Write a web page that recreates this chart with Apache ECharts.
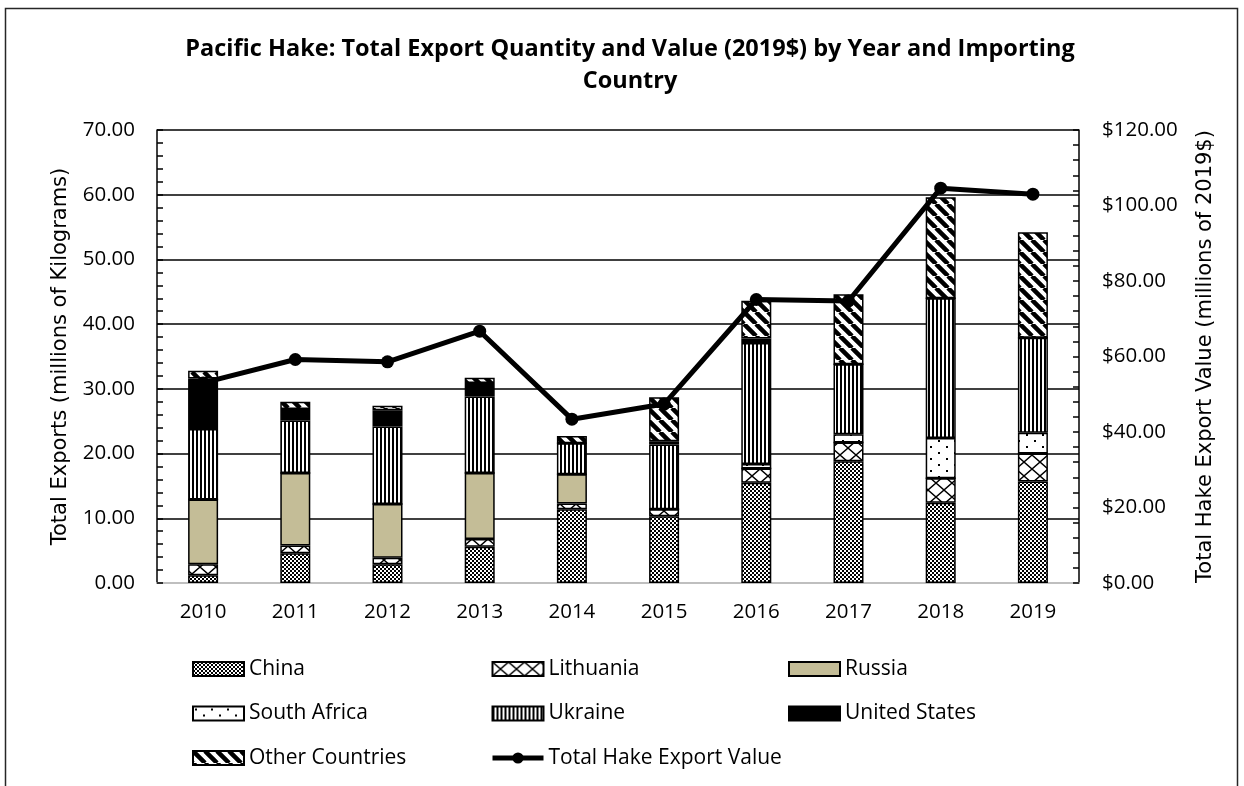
<!DOCTYPE html>
<html>
<head>
<meta charset="utf-8">
<script src="https://cdn.jsdelivr.net/npm/echarts/dist/echarts.min.js"></script>
<style>
  html, body { margin: 0; padding: 0; background: #fff; }
  #chart { width: 1244px; height: 786px; }
</style>
</head>
<body>
<div id="chart"></div>
<script>
const years = ["2010", "2011", "2012", "2013", "2014", "2015", "2016", "2017", "2018", "2019"];
const china = [1.2, 4.6, 2.9, 5.6, 11.4, 10.3, 15.5, 18.8, 12.4, 15.7];
const lithuania = [1.7, 1.2, 1.0, 1.2, 0.9, 1.1, 2.2, 2.9, 3.8, 4.3];
const russia = [10.0, 11.2, 8.3, 10.2, 4.5, 0, 0, 0, 0, 0];
const southAfrica = [0, 0, 0, 0, 0, 0, 0.7, 1.3, 6.2, 3.2];
const ukraine = [10.9, 8.1, 12.0, 11.8, 4.8, 10.0, 18.7, 10.8, 21.6, 14.7];
const unitedStates = [7.8, 1.8, 2.5, 2.1, 0, 0.5, 0.7, 0, 0, 0];
const otherCountries = [1.2, 1.1, 0.7, 0.8, 1.1, 6.8, 5.8, 10.8, 15.6, 16.3];
const exportValue = [53.0, 59.2, 58.6, 66.7, 43.4, 47.4, 75.1, 74.7, 104.6, 103.0];

const tickFont = "Open Sans";
const nameFont = "DejaVu Sans";

// small canvas fills standing in for Excel's pattern fills
function pattern(w, h, draw) {
  const c = document.createElement("canvas");
  c.width = w;
  c.height = h;
  const ctx = c.getContext("2d");
  ctx.fillStyle = "#fff";
  ctx.fillRect(0, 0, w, h);
  ctx.fillStyle = "#000";
  ctx.strokeStyle = "#000";
  draw(ctx);
  return { image: c, repeat: "repeat" };
}

const checker = pattern(4, 4, (ctx) => {
  ctx.fillRect(0, 0, 2, 2);
  ctx.fillRect(2, 2, 2, 2);
});
const crossed = pattern(16, 14, (ctx) => {
  ctx.lineWidth = 1.4;
  ctx.beginPath();
  ctx.moveTo(0, 0); ctx.lineTo(16, 14);
  ctx.moveTo(16, 0); ctx.lineTo(0, 14);
  ctx.stroke();
});
const dotted = pattern(16, 12, (ctx) => {
  ctx.fillRect(2, 2, 2, 2);
  ctx.fillRect(10, 8, 2, 2);
});
const vstripes = pattern(4, 4, (ctx) => {
  ctx.fillRect(0, 0, 2, 4);
});
const diagonal = pattern(12, 12, (ctx) => {
  ctx.lineWidth = 4.5;
  ctx.beginPath();
  for (const k of [-12, 0, 12]) {
    ctx.moveTo(k, 0);
    ctx.lineTo(k + 12, 12);
  }
  ctx.stroke();
});

function barSeries(name, data, fill) {
  return {
    name: name,
    type: "bar",
    stack: "exports",
    barWidth: 30,
    data: data,
    itemStyle: { color: fill, borderColor: "#000", borderWidth: 1.5 },
    emphasis: { disabled: true }
  };
}

function barKey(name) {
  return { name: name, icon: "rect" };
}

const legendText = { fontFamily: tickFont, fontSize: 21, color: "#000", lineHeight: 22 };
function legendColumn(left, names) {
  return {
    orient: "vertical",
    left: left,
    top: 653,
    itemWidth: 51,
    itemHeight: 14,
    itemGap: 22.5,
    selectedMode: false,
    textStyle: legendText,
    data: names
  };
}

const chart = echarts.init(document.getElementById("chart"));
chart.setOption({
  animation: false,
  backgroundColor: "#fff",
  title: {
    text: "Pacific Hake: Total Export Quantity and Value (2019$) by Year and Importing\nCountry",
    left: 625,
    top: 28,
    textAlign: "center",
    textStyle: { fontFamily: tickFont, fontWeight: "bold", fontSize: 23.5, lineHeight: 32, color: "#000" }
  },
  graphic: [{
    type: "rect",
    shape: { x: 5.5, y: 8.5, width: 1232, height: 800 },
    style: { fill: null, stroke: "#262626", lineWidth: 1.5 },
    silent: true
  }],
  legend: [
    legendColumn(187, [barKey("China"), barKey("South Africa"), barKey("Other Countries")]),
    legendColumn(485, [barKey("Lithuania"), barKey("Ukraine"), { name: "Total Hake Export Value", lineStyle: { width: 5 }, itemStyle: { borderWidth: 0 } }]),
    legendColumn(783, [barKey("Russia"), barKey("United States")])
  ],
  grid: { left: 157, right: 165, top: 130, bottom: 203, containLabel: false },
  xAxis: {
    type: "category",
    data: years,
    axisLine: { lineStyle: { color: "#bfbfbf", width: 2 } },
    axisTick: { show: false },
    axisLabel: { fontFamily: tickFont, fontSize: 20.5, color: "#000", margin: 19 }
  },
  yAxis: [{
    type: "value",
    min: 0,
    max: 70,
    interval: 10,
    name: "Total Exports (millions of Kilograms)",
    nameLocation: "middle",
    nameGap: 86,
    nameTextStyle: { fontFamily: nameFont, fontSize: 21, color: "#000" },
    axisLine: { show: true, lineStyle: { color: "#000", width: 1.5 } },
    axisTick: { show: true, inside: true, length: 6, lineStyle: { color: "#000", width: 1.5 } },
    minorTick: { show: true, splitNumber: 5, length: 6, lineStyle: { color: "#000", width: 1.5 } },
    splitLine: { show: true, lineStyle: { color: "#000", width: 1.5 } },
    axisLabel: {
      fontFamily: tickFont, fontSize: 20.5, color: "#000", margin: 22,
      formatter: (v) => v.toFixed(2)
    }
  }, {
    type: "value",
    min: 0,
    max: 120,
    interval: 20,
    position: "right",
    name: "Total Hake Export Value (millions of 2019$)",
    nameLocation: "middle",
    nameGap: 116,
    nameTextStyle: { fontFamily: nameFont, fontSize: 21, color: "#000" },
    axisLine: { show: true, lineStyle: { color: "#000", width: 1.5 } },
    axisTick: { show: true, inside: true, length: 6, lineStyle: { color: "#000", width: 1.5 } },
    minorTick: { show: true, splitNumber: 5, length: 6, lineStyle: { color: "#000", width: 1.5 } },
    splitLine: { show: false },
    axisLabel: {
      fontFamily: tickFont, fontSize: 20.5, color: "#000", margin: 23,
      formatter: (v) => "$" + v.toFixed(2)
    }
  }],
  series: [
    barSeries("China", china, checker),
    barSeries("Lithuania", lithuania, crossed),
    barSeries("Russia", russia, "#c4bd97"),
    barSeries("South Africa", southAfrica, dotted),
    barSeries("Ukraine", ukraine, vstripes),
    barSeries("United States", unitedStates, "#000"),
    barSeries("Other Countries", otherCountries, diagonal),
    {
      name: "Total Hake Export Value",
      type: "line",
      yAxisIndex: 1,
      data: exportValue,
      z: 5,
      symbol: "circle",
      symbolSize: 13,
      lineStyle: { color: "#000", width: 5 },
      itemStyle: { color: "#000" },
      emphasis: { disabled: true }
    }
  ]
});
</script>
</body>
</html>
